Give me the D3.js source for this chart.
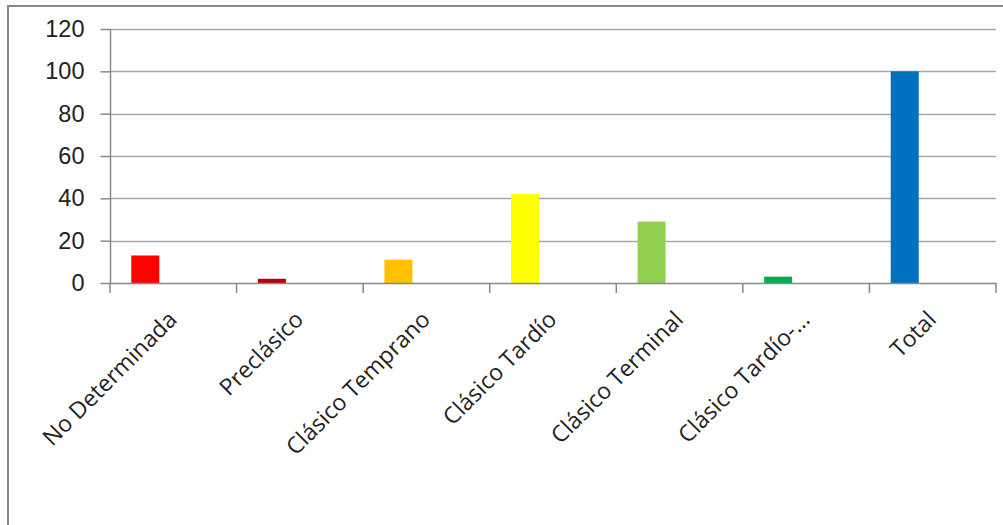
<!DOCTYPE html>
<html>
<head>
<meta charset="utf-8">
<script src="https://cdn.jsdelivr.net/npm/d3@7"></script>
<style>
  html, body { margin: 0; padding: 0; background: #fff; }
  #chart { width: 1003px; height: 525px; }
</style>
</head>
<body>
<div id="chart"></div>
<script>
// ---- datos ----
const categories = ["No Determinada", "Preclásico", "Clásico Temprano", "Clásico Tardío", "Clásico Terminal", "Clásico Tardío-…", "Total"];
const values = [13, 2, 11, 42, 29, 3, 100];
const barColors = ["#ff0000", "#c00000", "#ffc000", "#ffff00", "#92d050", "#00b050", "#0070c0"];
const yTicks = [0, 20, 40, 60, 80, 100, 120];
// el gráfico original tiene 3 series, solo la primera con valores
const seriesSlots = ["s1", "s2", "s3"];

const width = 1003, height = 525;
const plot = { left: 110, right: 996, top: 29, bottom: 283 };

const svg = d3.select("#chart").append("svg")
  .attr("width", width)
  .attr("height", height)
  .style("font-family", "'Open Sans', 'Noto Sans', sans-serif");

// marco del área del gráfico (recortado a la derecha y abajo)
svg.append("line").attr("x1", 8).attr("x2", width).attr("y1", 6).attr("y2", 6)
  .attr("stroke", "#888").attr("stroke-width", 2);
svg.append("line").attr("x1", 8).attr("x2", 8).attr("y1", 5).attr("y2", height)
  .attr("stroke", "#888").attr("stroke-width", 2);

const x = d3.scaleBand().domain(categories).range([plot.left, plot.right]).padding(0);
const xSlot = d3.scaleBand().domain(seriesSlots).range([0, x.bandwidth()]).paddingInner(0).paddingOuter(0.76);
const y = d3.scaleLinear().domain([0, 120]).range([plot.bottom, plot.top]);

// líneas de división
svg.append("g")
  .selectAll("line")
  .data(yTicks.filter(d => d > 0))
  .join("line")
  .attr("x1", plot.left).attr("x2", plot.right)
  .attr("y1", d => Math.round(y(d)) + 0.5).attr("y2", d => Math.round(y(d)) + 0.5)
  .attr("stroke", "#a6a6a6").attr("stroke-width", 1.5);

// barras
svg.append("g")
  .selectAll("rect")
  .data(categories)
  .join("rect")
  .attr("x", (d) => x(d) + xSlot("s1"))
  .attr("width", xSlot.bandwidth())
  .attr("y", (d, i) => y(values[i]))
  .attr("height", (d, i) => y(0) - y(values[i]))
  .attr("fill", (d, i) => barColors[i]);

// eje Y
const yAxis = d3.axisLeft(y).tickValues(yTicks).tickSize(10).tickPadding(16);
const gy = svg.append("g").attr("transform", `translate(${plot.left + 0.5},0)`).call(yAxis);
gy.select(".domain").attr("stroke", "#888").attr("stroke-width", 1.5).attr("d", `M0,${plot.top}V${plot.bottom}`);
gy.selectAll(".tick line").attr("stroke", "#888").attr("stroke-width", 1.5);
gy.selectAll(".tick text").attr("font-size", "23.5px").attr("fill", "#222");

// eje X
const xTickPos = d3.range(categories.length + 1).map(i => plot.left + i * x.step());
const gx = svg.append("g");
gx.append("line").attr("x1", plot.left).attr("x2", plot.right)
  .attr("y1", plot.bottom + 0.5).attr("y2", plot.bottom + 0.5)
  .attr("stroke", "#888").attr("stroke-width", 1.5);
gx.selectAll("line.tk").data(xTickPos).join("line").attr("class", "tk")
  .attr("x1", d => d).attr("x2", d => d)
  .attr("y1", plot.bottom).attr("y2", plot.bottom + 10)
  .attr("stroke", "#888").attr("stroke-width", 1.5);

gx.selectAll("text")
  .data(categories)
  .join("text")
  .attr("transform", d => `translate(${x(d) + x.bandwidth() / 2 + 5},${plot.bottom + 38}) rotate(-45)`)
  .attr("text-anchor", "end")
  .attr("font-size", "23px")
  .attr("fill", "#222")
  .text(d => d);
</script>
</body>
</html>
